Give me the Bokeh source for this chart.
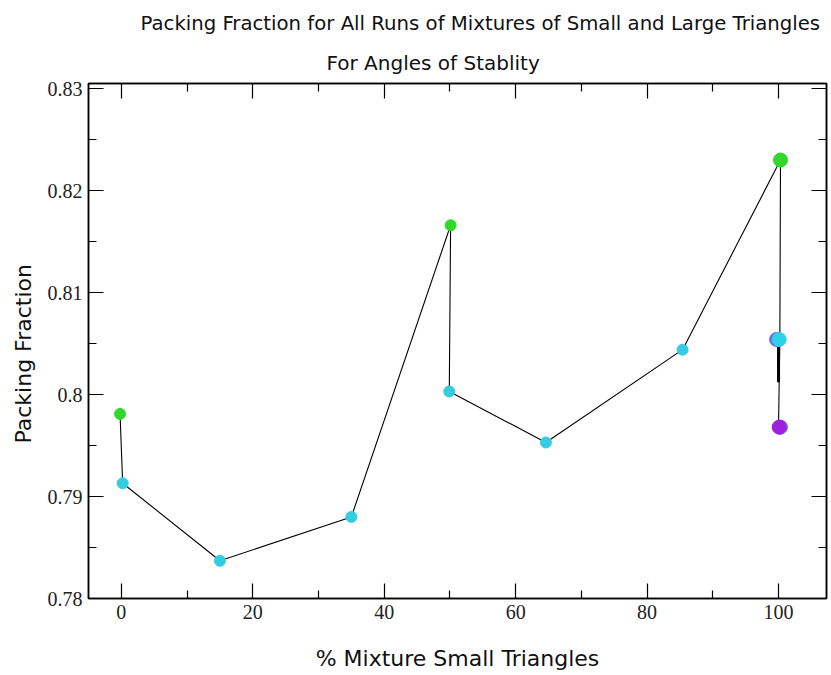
from bokeh.plotting import figure
from bokeh.models import (Title, LinearAxis, FixedTicker, CustomJSTickFormatter,
                          ColumnDataSource, Range1d)
from bokeh.embed import file_html
from bokeh.resources import INLINE

# Path through all runs (percent small triangles vs packing fraction)
path_pct = [-0.2, 0.2, 15.0, 35.0, 50.1, 49.9, 64.6, 85.4, 100.3, 100.2, 100.0]
path_pf = [0.7981, 0.7913, 0.7837, 0.7880, 0.8166, 0.8003, 0.7953, 0.8044, 0.8230, 0.8054, 0.7968]

# Overlapping runs at 100 %
overlap_pct = [100.0, 100.0]
overlap_pf = [0.8054, 0.8012]

# Points grouped by run type
green_pct = [-0.2, 50.1, 100.3]
green_pf = [0.7981, 0.8166, 0.8230]
green_size = [11, 11, 14]

cyan_pct = [0.2, 15.0, 35.0, 49.9, 64.6, 85.4]
cyan_pf = [0.7913, 0.7837, 0.7880, 0.8003, 0.7953, 0.8044]

violet_pct = [99.7]
violet_pf = [0.8054]
cyan100_pct = [100.1]
cyan100_pf = [0.8054]

blue_pct = [100.3]
blue_pf = [0.7968]
purple_pct = [100.1]
purple_pf = [0.7968]

x_ticks = [0, 20, 40, 60, 80, 100]
x_minor = [10, 30, 50, 70, 90]
y_ticks = [0.78, 0.79, 0.80, 0.81, 0.82, 0.83]
y_minor = [0.785, 0.795, 0.805, 0.815, 0.825]

FONT = "DejaVu Sans"
SERIF = "Liberation Serif"

p = figure(width=831, height=675, output_backend="svg", toolbar_location=None,
           x_range=Range1d(-5, 107.3), y_range=Range1d(0.78, 0.8305),
           min_border_left=88, min_border_right=5, min_border_top=83,
           min_border_bottom=77, x_axis_label="% Mixture Small Triangles")
p.background_fill_color = "white"
p.border_fill_color = "white"
p.outline_line_color = "black"
p.outline_line_width = 1.5
p.xgrid.visible = False
p.ygrid.visible = False

yfmt = CustomJSTickFormatter(code="return tick.toFixed(2).replace(/0$/, '');")
blank = CustomJSTickFormatter(code="return '';")


def style_axis(ax, ticks, minor, labels=True):
    ax.ticker = FixedTicker(ticks=ticks, minor_ticks=minor)
    ax.axis_line_color = "black"
    ax.axis_line_width = 1.5
    ax.major_tick_in = 15
    ax.major_tick_out = 0
    ax.minor_tick_in = 8
    ax.minor_tick_out = 0
    ax.major_tick_line_color = "black"
    ax.minor_tick_line_color = "black"
    ax.major_tick_line_width = 1.2
    ax.minor_tick_line_width = 1.2
    ax.major_label_text_font = SERIF
    ax.major_label_text_font_size = "20px"
    ax.major_label_text_color = "#222222"
    ax.axis_label_text_font = FONT
    ax.axis_label_text_font_style = "normal"
    ax.axis_label_text_font_size = "22px"
    ax.axis_label_text_color = "#111111"
    if not labels:
        ax.formatter = blank
        ax.major_label_standoff = 0
        ax.major_label_text_font_size = "0px"


style_axis(p.xaxis[0], x_ticks, x_minor)
p.xaxis[0].major_label_standoff = 6
p.xaxis[0].axis_label_standoff = 24
style_axis(p.yaxis[0], y_ticks, y_minor)
p.yaxis[0].formatter = yfmt
p.yaxis[0].major_label_standoff = 6

# y-axis caption, set a little below the frame centre
p.add_layout(Title(text="Packing Fraction", align="left", offset=155,
                   text_font=FONT, text_font_style="normal", standoff=17,
                   text_font_size="22px", text_color="#111111"), "left")

right_ax = LinearAxis()
style_axis(right_ax, y_ticks, y_minor, labels=False)
p.add_layout(right_ax, "right")
top_ax = LinearAxis()
style_axis(top_ax, x_ticks, x_minor, labels=False)
p.add_layout(top_ax, "above")

p.add_layout(Title(text="For Angles of Stablity", align="left", offset=238,
                   text_font=FONT, text_font_style="normal", standoff=18,
                   text_font_size="20px", text_color="#111111"), "above")
p.title = Title(text="Packing Fraction for All Runs of Mixtures of Small and Large Triangles",
                align="left", offset=52, text_font=FONT, text_font_style="normal",
                text_font_size="19.7px", text_color="#111111")

p.line(path_pct, path_pf, line_color="black", line_width=1.1)
p.line(overlap_pct, overlap_pf, line_color="black", line_width=3)

p.scatter(violet_pct, violet_pf, size=14, color="#6f6fd8")
p.scatter(blue_pct, blue_pf, size=14, color="#6f6fd8")
p.scatter(cyan_pct, cyan_pf, size=11, color="#33cce0")
p.scatter(cyan100_pct, cyan100_pf, size=14, color="#2fd0e8")
p.scatter(purple_pct, purple_pf, size=14, color="#a020e0")
src_g = ColumnDataSource(dict(x=green_pct, y=green_pf, s=green_size))
p.scatter("x", "y", size="s", source=src_g, color="#30d82a")

open("out.html", "w").write(file_html(p, INLINE))
